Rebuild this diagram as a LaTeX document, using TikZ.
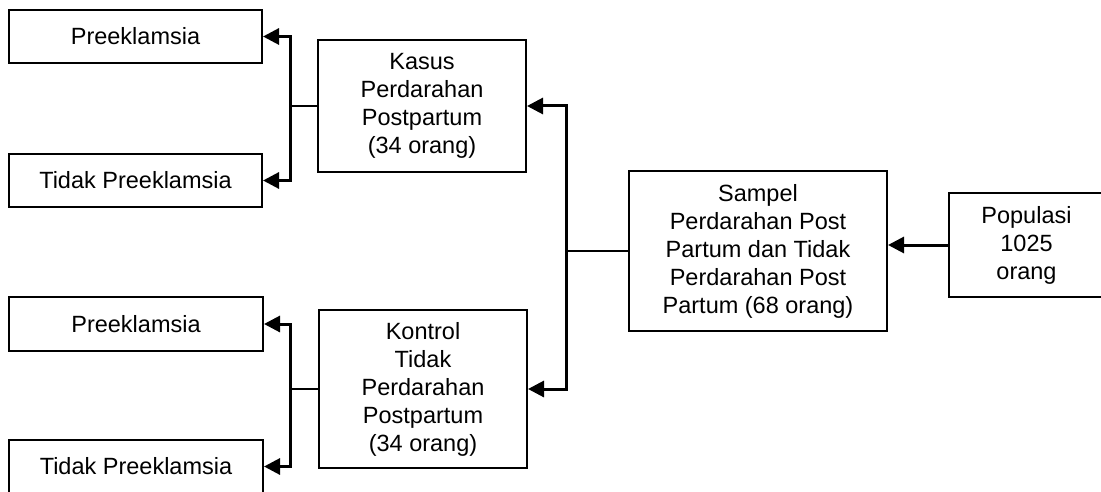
\documentclass[tikz,border=0pt]{standalone}
\usepackage{fontspec}
\setmainfont{Liberation Sans}
\usetikzlibrary{arrows.meta}
\begin{document}
\begin{tikzpicture}[x=1pt,y=-1pt,
  box/.style={draw=black,line width=2pt,inner sep=0pt,align=center,
    font=\fontsize{23.5}{28}\selectfont},
  arr/.style={line width=3pt,-{Triangle[length=16pt,width=16pt]}},
  stub/.style={line width=1.7pt},
  link/.style={line width=2.4pt}]
\useasboundingbox (0,0) rectangle (1101,492);
\clip (0,0) rectangle (1101,492);
\fill[white] (0,0) rectangle (1101,492);
\node[box,minimum width=253pt,minimum height=53pt] (P1) at (135.5,36.5) {Preeklamsia};
\node[box,minimum width=253pt,minimum height=53pt] (TP1) at (135.5,180.5) {Tidak Preeklamsia};
\node[box,minimum width=254pt,minimum height=54pt] (P2) at (136,324) {Preeklamsia};
\node[box,minimum width=254pt,minimum height=53pt] (TP2) at (136,466.5) {Tidak Preeklamsia};
\node[box,minimum width=208pt,minimum height=132pt] (K) at (422,106) {Kasus\\Perdarahan\\Postpartum\\(34 orang)};
\node[box,minimum width=208pt,minimum height=158pt] (C) at (423,389) {Kontrol\\Tidak\\Perdarahan\\Postpartum\\(34 orang)};
\node[box,minimum width=258pt,minimum height=160pt] (S) at (758,251) {Sampel\\Perdarahan Post\\Partum dan Tidak\\Perdarahan Post\\Partum (68 orang)};
\node[box,minimum width=155pt,minimum height=104pt] (Pop) at (1026.5,245) {Populasi\\1025\\orang};
\coordinate (b1) at (290,106);
\coordinate (b2) at (290,389);
\coordinate (r) at (566,251);
\draw[stub] (K.west) -- (b1);
\draw[arr] (b1) |- (P1.east);
\draw[arr] (b1) |- (TP1.east);
\draw[stub] (C.west) -- (b2);
\draw[arr] (b2) |- (P2.east);
\draw[arr] (b2) |- (TP2.east);
\draw[link] (S.west) -- (r);
\draw[arr] (r) |- (K.east);
\draw[arr] (r) |- (C.east);
\draw[arr] (Pop.west) -- (Pop.west -| S.east);
\end{tikzpicture}
\end{document}
